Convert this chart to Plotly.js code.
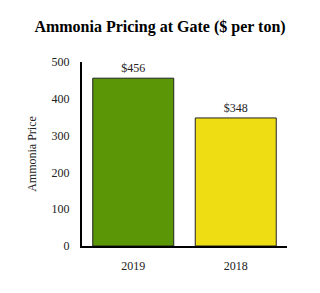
<!DOCTYPE html>
<html><head><meta charset="utf-8">
<script src="https://cdn.plot.ly/plotly-3.0.1.min.js"></script>
<style>html,body{margin:0;padding:0;background:#fff}#chart{width:320px;height:293px}</style>
</head><body><div id="chart"></div>
<script>
const years = ["2019", "2018"];
const prices = [456, 348];
const priceLabels = ["$456", "$348"];
const barColors = ["#5a9606", "#eedd12"];

const serif = "Liberation Serif, Times New Roman, serif";
Plotly.newPlot("chart", [{
  type: "bar",
  x: years,
  y: prices,
  text: priceLabels,
  textposition: "outside",
  textfont: {family: serif, size: 12, color: "#222"},
  cliponaxis: false,
  marker: {color: barColors, line: {color: "#222", width: 1}},
  hoverinfo: "none"
}], {
  width: 320, height: 293,
  margin: {l: 82, r: 33, t: 62, b: 47},
  bargap: 0.21,
  paper_bgcolor: "#fff", plot_bgcolor: "#fff",
  title: {text: "<b>Ammonia Pricing at Gate ($ per ton)</b>", font: {family: serif, size: 16, color: "#000"}, x: 0.5, xanchor: "center", y: 0.91, yanchor: "middle"},
  xaxis: {type: "category", categoryorder: "array", categoryarray: years, showline: true, linecolor: "#000", linewidth: 2, ticks: "", tickfont: {family: serif, size: 12, color: "#222"}, showgrid: false, ticklabelstandoff: 8},
  yaxis: {range: [0, 500], tickvals: [0,100,200,300,400,500], showline: true, linecolor: "#000", linewidth: 2, ticks: "", showgrid: false, zeroline: false,
    tickfont: {family: serif, size: 12, color: "#222"}, ticklabelstandoff: 8,
    title: {text: "Ammonia Price", font: {family: serif, size: 12, color: "#222"}, standoff: 12}}
}, {displayModeBar: false, staticPlot: true});
</script></body></html>
